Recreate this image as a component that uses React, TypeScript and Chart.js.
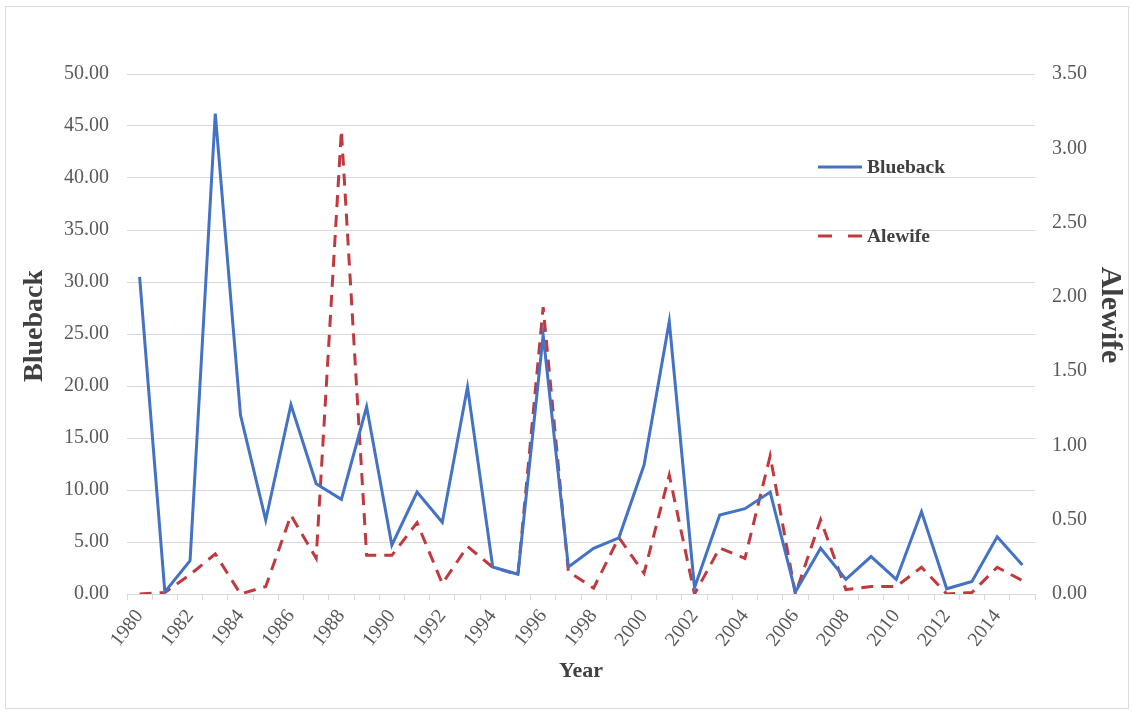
import React, { useEffect, useRef } from "react";
import { Chart, registerables } from "chart.js";

Chart.register(...registerables);

const years: string[] = [
  "1980", "1981", "1982", "1983", "1984", "1985", "1986", "1987", "1988", "1989",
  "1990", "1991", "1992", "1993", "1994", "1995", "1996", "1997", "1998", "1999",
  "2000", "2001", "2002", "2003", "2004", "2005", "2006", "2007", "2008", "2009",
  "2010", "2011", "2012", "2013", "2014", "2015",
];

const blueback: number[] = [
  30.5, 0.2, 3.2, 46.2, 17.2, 7.1, 18.2, 10.6, 9.1, 18.0,
  4.7, 9.8, 6.9, 19.9, 2.6, 1.9, 24.9, 2.6, 4.4, 5.4,
  12.4, 26.2, 0.6, 7.6, 8.2, 9.8, 0.2, 4.4, 1.4, 3.6,
  1.4, 7.9, 0.5, 1.2, 5.5, 2.8,
];

const alewife: number[] = [
  0.0, 0.01, 0.13, 0.27, 0.0, 0.05, 0.53, 0.24, 3.12, 0.26,
  0.26, 0.48, 0.07, 0.32, 0.18, 0.13, 1.93, 0.15, 0.04, 0.38,
  0.14, 0.8, 0.0, 0.31, 0.24, 0.93, 0.0, 0.5, 0.03, 0.05,
  0.05, 0.18, 0.0, 0.01, 0.18, 0.09,
];

const seriesNames: string[] = ["Blueback", "Alewife"];
const axisTitles = { left: "Blueback", right: "Alewife", x: "Year" };

const SERIF = '"Liberation Serif", "Times New Roman", serif';
const TICK_COLOR = "#595959";
const TITLE_COLOR = "#404040";
const GRID_COLOR = "#d9d9d9";
const BLUE = "#4472C4";
const RED = "#C0393F";

const legendPlugin = {
  id: "customLegend",
  afterDraw(chart: any) {
    const { ctx, chartArea } = chart;
    const x0 = chartArea.right - 217;
    const ys = [chartArea.top + 93, chartArea.top + 162];
    chart.data.datasets.forEach((ds: any, i: number) => {
      ctx.save();
      ctx.strokeStyle = ds.borderColor;
      ctx.lineWidth = 3;
      ctx.setLineDash(ds.borderDash && ds.borderDash.length ? [14, 16] : []);
      ctx.beginPath();
      ctx.moveTo(x0, ys[i]);
      ctx.lineTo(x0 + 44, ys[i]);
      ctx.stroke();
      ctx.setLineDash([]);
      ctx.fillStyle = TITLE_COLOR;
      ctx.font = `bold 19.5px ${SERIF}`;
      ctx.textBaseline = "middle";
      ctx.textAlign = "left";
      ctx.fillText(ds.label, x0 + 49, ys[i] + 1);
      ctx.restore();
    });

    // vertical axis titles, placed as in the reference
    ctx.save();
    ctx.fillStyle = TITLE_COLOR;
    ctx.textAlign = "center";
    ctx.textBaseline = "middle";
    ctx.font = `bold 28px ${SERIF}`;
    ctx.translate(35, chartArea.top + 252);
    ctx.rotate(-Math.PI / 2);
    ctx.fillText(axisTitles.left, 0, 0);
    ctx.restore();

    ctx.save();
    ctx.fillStyle = TITLE_COLOR;
    ctx.textAlign = "center";
    ctx.textBaseline = "middle";
    ctx.font = `bold 30px ${SERIF}`;
    ctx.translate(1110, chartArea.top + 241);
    ctx.rotate(Math.PI / 2);
    ctx.fillText(axisTitles.right, 0, 0);
    ctx.restore();
  },
};

export default function App() {
  const canvasRef = useRef<HTMLCanvasElement | null>(null);

  useEffect(() => {
    if (!canvasRef.current) return;
    const chart = new Chart(canvasRef.current, {
      type: "line",
      data: {
        labels: years,
        datasets: [
          {
            label: seriesNames[0],
            data: blueback,
            yAxisID: "y",
            borderColor: BLUE,
            backgroundColor: BLUE,
            borderWidth: 3,
            pointRadius: 0,
            tension: 0,
            fill: false,
          },
          {
            label: seriesNames[1],
            data: alewife,
            yAxisID: "y1",
            borderColor: RED,
            backgroundColor: RED,
            borderWidth: 3,
            borderDash: [12, 8],
            pointRadius: 0,
            tension: 0,
            fill: false,
          },
        ],
      },
      options: {
        responsive: false,
        animation: false,
        maintainAspectRatio: false,
        layout: { padding: { top: 74, left: 0, right: 0, bottom: 0 } },
        plugins: {
          legend: { display: false },
          tooltip: { enabled: false },
        },
        scales: {
          x: {
            type: "category",
            offset: true,
            afterFit: (scale: any) => {
              scale.height = 119;
            },
            grid: {
              offset: true,
              drawOnChartArea: false,
              drawTicks: true,
              tickLength: 6,
              color: GRID_COLOR,
            },
            border: { display: true, color: GRID_COLOR, width: 1 },
            ticks: {
              autoSkip: false,
              maxRotation: 52,
              minRotation: 52,
              padding: 5,
              color: TICK_COLOR,
              font: { family: SERIF, size: 20 },
              callback: function (this: any, _v: any, index: number) {
                return index % 2 === 0 ? years[index] : "";
              },
            },
            title: {
              display: true,
              text: axisTitles.x,
              color: TITLE_COLOR,
              font: { family: SERIF, size: 22, weight: "bold" },
              padding: { top: 0, bottom: 28 },
            },
          },
          y: {
            position: "left",
            min: 0,
            max: 50,
            afterFit: (scale: any) => {
              scale.width = 127;
            },
            grid: {
              drawTicks: false,
              color: GRID_COLOR,
              lineWidth: 1,
            },
            border: { display: false },
            ticks: {
              stepSize: 5,
              padding: 18,
              color: TICK_COLOR,
              font: { family: SERIF, size: 20 },
              callback: (v: any) => Number(v).toFixed(2),
            },
            title: { display: false },
          },
          y1: {
            position: "right",
            min: 0,
            max: 3.5,
            afterFit: (scale: any) => {
              scale.width = 98;
            },
            grid: { drawOnChartArea: false, drawTicks: false },
            border: { display: false },
            ticks: {
              stepSize: 0.5,
              padding: 17,
              color: TICK_COLOR,
              font: { family: SERIF, size: 20 },
              callback: (v: any) => Number(v).toFixed(2),
            },
            title: { display: false },
          },
        },
      } as any,
      plugins: [legendPlugin],
    });
    return () => chart.destroy();
  }, []);

  return (
    <div style={{ position: "fixed", left: 0, top: 0, width: 1133, height: 713, background: "#fff" }}>
      <div
        style={{
          position: "absolute",
          left: 5,
          top: 6,
          width: 1122,
          height: 701,
          border: "1px solid #dcdcdc",
          pointerEvents: "none",
        }}
      />
      <canvas
        ref={canvasRef}
        width={1133}
        height={713}
        style={{ position: "absolute", left: 0, top: 0, width: 1133, height: 713 }}
      />
    </div>
  );
}
